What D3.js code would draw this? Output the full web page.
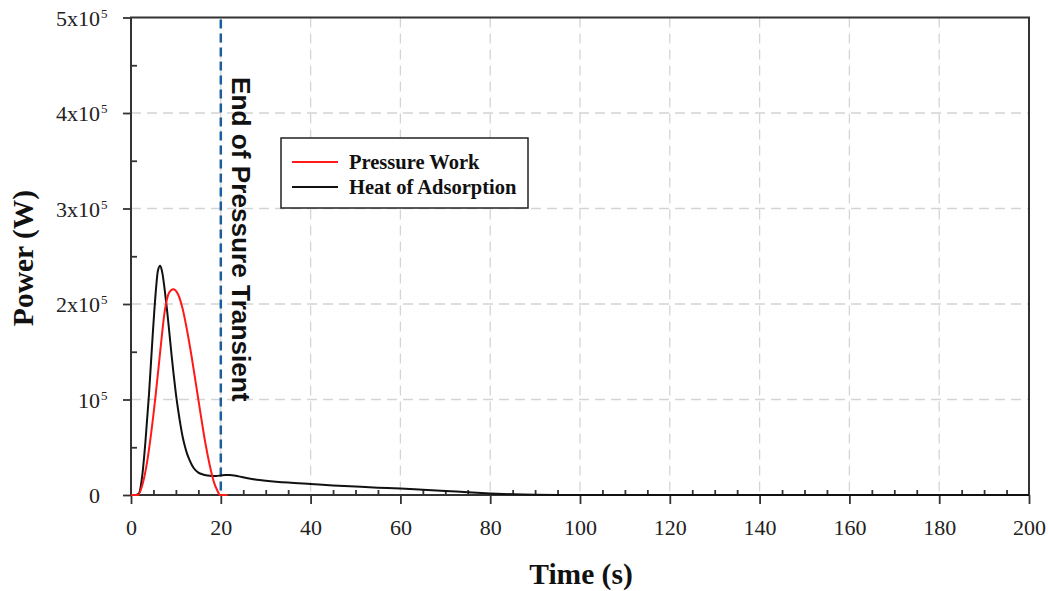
<!DOCTYPE html>
<html>
<head>
<meta charset="utf-8">
<script src="https://cdn.jsdelivr.net/npm/d3@7"></script>
<style>
    body { margin: 0; background: #fff; }
    svg { display: block; }
</style>
</head>
<body>
<div id="chart"></div>
<script>
// time in s, power in units of 1e5 W
const pressureTime = [0, 1, 1.6, 2.5, 3.5, 4.5, 5.5, 6.5, 7.5, 8.5, 9.4, 10.5, 11.5, 12.5, 13.5, 14.5, 15.5, 16.5, 17.5, 18.5, 19.3, 19.8, 21.5];
const pressureWork = [0, 0, 0, 0.1, 0.32, 0.65, 1.05, 1.5, 1.92, 2.12, 2.155, 2.1, 1.95, 1.72, 1.45, 1.15, 0.85, 0.56, 0.32, 0.13, 0.04, 0, 0];

const heatTime = [0, 1, 1.8, 2.5, 3.2, 4, 4.8, 5.5, 6, 6.5, 7, 7.5, 8, 8.5, 9, 9.5, 10, 10.5, 11, 11.5, 12, 12.5, 13, 13.5, 14, 15, 16, 17, 18, 19, 20, 21, 22, 23, 24, 26, 28, 30, 35, 40, 45, 50, 55, 60, 65, 70, 75, 80, 85, 90, 95, 100, 200];
const heatAdsorption = [0, 0, 0.02, 0.2, 0.55, 1.05, 1.65, 2.12, 2.35, 2.4, 2.32, 2.15, 1.95, 1.72, 1.48, 1.26, 1.06, 0.89, 0.74, 0.61, 0.51, 0.43, 0.37, 0.32, 0.28, 0.235, 0.215, 0.205, 0.2, 0.2, 0.205, 0.21, 0.21, 0.205, 0.195, 0.175, 0.16, 0.15, 0.13, 0.115, 0.1, 0.088, 0.077, 0.068, 0.055, 0.042, 0.03, 0.017, 0.008, 0.003, 0.001, 0, 0];

const xTicks = [0, 20, 40, 60, 80, 100, 120, 140, 160, 180, 200];
const yTicks = [0, 1, 2, 3, 4, 5];
const yTickBase = ["0", "10", "2x10", "3x10", "4x10", "5x10"];
const yTickExp = ["", "5", "5", "5", "5", "5"];
const transientEnd = 20;

const legendNames = ["Pressure Work", "Heat of Adsorption"];
const legendColors = ["#ff1a1a", "#111111"];

let width = 1048,
    height = 591;

let x = d3.scaleLinear().domain([0, 200]).range([131, 1029]);
let y = d3.scaleLinear().domain([0, 5]).range([495, 17.5]);

let svg = d3.select("#chart").append("svg")
    .attr("width", width)
    .attr("height", height);

// grid
svg.append("g").selectAll("line")
    .data(xTicks.slice(1, -1))
    .join("line")
    .attr("x1", d => x(d)).attr("x2", d => x(d))
    .attr("y1", y(5)).attr("y2", y(0))
    .attr("stroke", "#d4d4d4").attr("stroke-width", 1.3)
    .attr("stroke-dasharray", "10,6");

svg.append("g").selectAll("line")
    .data(yTicks.slice(1, -1))
    .join("line")
    .attr("x1", x(0)).attr("x2", x(200))
    .attr("y1", d => y(d)).attr("y2", d => y(d))
    .attr("stroke", "#d4d4d4").attr("stroke-width", 1.3)
    .attr("stroke-dasharray", "10,6");

// axes: major ticks outside, minor ticks inside
let xAxis = svg.append("g").attr("transform", `translate(0,${y(0)})`)
    .call(d3.axisBottom(x).tickValues(xTicks).tickSize(9).tickFormat(d3.format("d")));
let xMinor = svg.append("g").attr("transform", `translate(0,${y(0)})`)
    .call(d3.axisTop(x).tickValues(d3.range(5, 200, 5).filter(d => d % 20)).tickSize(5).tickFormat(""));

let yAxis = svg.append("g").attr("transform", `translate(${x(0)},0)`)
    .call(d3.axisLeft(y).tickValues(yTicks).tickSize(8).tickFormat(""));
let yMinor = svg.append("g").attr("transform", `translate(${x(0)},0)`)
    .call(d3.axisRight(y).tickValues([0.5, 1.5, 2.5, 3.5, 4.5]).tickSize(6).tickFormat(""));

[xAxis, xMinor, yAxis, yMinor].forEach(g => {
    g.select(".domain").remove();
    g.selectAll(".tick line").attr("stroke", "#333").attr("stroke-width", 1.8);
});

xAxis.selectAll(".tick text")
    .attr("y", 24)
    .attr("fill", "#222")
    .style("font-family", "'Liberation Serif', 'Times New Roman', serif")
    .style("font-size", "22px");

// y labels: base text right aligned, exponent hangs out
let yl = svg.append("g").selectAll("g")
    .data(yTicks)
    .join("g")
    .attr("transform", d => `translate(0,${y(d)})`)
    .style("font-family", "'Liberation Serif', 'Times New Roman', serif")
    .attr("fill", "#222");
yl.append("text")
    .attr("x", 100).attr("y", 8)
    .attr("text-anchor", "end")
    .style("font-size", "22px")
    .text((d, i) => yTickBase[i]);
yl.append("text")
    .attr("x", 101).attr("y", 0)
    .style("font-size", "13px")
    .text((d, i) => yTickExp[i]);

// frame
svg.append("rect")
    .attr("x", x(0)).attr("y", y(5))
    .attr("width", x(200) - x(0)).attr("height", y(0) - y(5))
    .attr("fill", "none").attr("stroke", "#333").attr("stroke-width", 2);

// end of pressure transient
svg.append("line")
    .attr("x1", x(transientEnd)).attr("x2", x(transientEnd))
    .attr("y1", y(5) + 2).attr("y2", y(0))
    .attr("stroke", "#1c5d9c").attr("stroke-width", 2.5)
    .attr("stroke-dasharray", "9,5");

svg.append("text")
    .attr("transform", `translate(${x(transientEnd) + 11},77) rotate(90)`)
    .style("font-family", "'Liberation Sans', Arial, sans-serif")
    .style("font-weight", "bold")
    .style("font-size", "26.2px")
    .attr("fill", "#111")
    .text("End of Pressure Transient");

// curves
let line = d3.line()
    .x(d => x(d[0]))
    .y(d => y(d[1]))
    .curve(d3.curveMonotoneX);

svg.append("path")
    .datum(heatTime.map((t, i) => [t, heatAdsorption[i]]))
    .attr("d", line)
    .attr("fill", "none")
    .attr("stroke", legendColors[1])
    .attr("stroke-width", 2);

svg.append("path")
    .datum(pressureTime.map((t, i) => [t, pressureWork[i]]))
    .attr("d", line)
    .attr("fill", "none")
    .attr("stroke", legendColors[0])
    .attr("stroke-width", 2);

// legend
let legend = svg.append("g").attr("transform", "translate(281,138)");
legend.append("rect")
    .attr("width", 247).attr("height", 70)
    .attr("fill", "#fff").attr("stroke", "#222").attr("stroke-width", 1.5);

let items = legend.selectAll(".item")
    .data(legendNames)
    .join("g")
    .attr("class", "item")
    .attr("transform", (d, i) => `translate(0,${24 + i * 25})`);
items.append("line")
    .attr("x1", 11).attr("x2", 57)
    .attr("stroke", (d, i) => legendColors[i])
    .attr("stroke-width", 2);
items.append("text")
    .attr("x", 68).attr("y", 7)
    .style("font-family", "'Liberation Serif', 'Times New Roman', serif")
    .style("font-weight", "bold")
    .style("font-size", "20.5px")
    .attr("fill", "#111")
    .text(d => d);

// axis titles
svg.append("text")
    .attr("transform", "translate(33,258) rotate(-90)")
    .attr("text-anchor", "middle")
    .style("font-family", "'Liberation Serif', 'Times New Roman', serif")
    .style("font-weight", "bold")
    .style("font-size", "29.5px")
    .attr("fill", "#111")
    .text("Power (W)");

svg.append("text")
    .attr("x", 581).attr("y", 584)
    .attr("text-anchor", "middle")
    .style("font-family", "'Liberation Serif', 'Times New Roman', serif")
    .style("font-weight", "bold")
    .style("font-size", "29.5px")
    .attr("fill", "#111")
    .text("Time (s)");
</script>
</body>
</html>
